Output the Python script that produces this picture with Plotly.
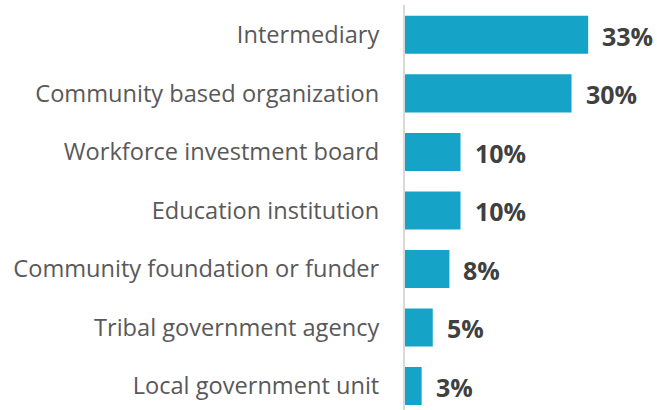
import plotly.graph_objects as go

categories = ["Intermediary", "Community based organization", "Workforce investment board",
              "Education institution", "Community foundation or funder",
              "Tribal government agency", "Local government unit"]
values = [33, 30, 10, 10, 8, 5, 3]
labels = ["33%", "30%", "10%", "10%", "8%", "5%", "3%"]

fig = go.Figure(go.Bar(
    x=values, y=categories, orientation="h",
    marker=dict(color="#15A3C7", line=dict(width=0)),
    width=0.65,
))

for c, v, t in zip(categories, values, labels):
    fig.add_annotation(x=v, y=c, text="<b>%s</b>" % t, showarrow=False,
                       xanchor="left", yanchor="middle", xshift=12, yshift=-1,
                       font=dict(family="Open Sans", size=25, color="#404040"))

fig.update_layout(
    width=657, height=410,
    margin=dict(l=405, r=0, t=5, b=0),
    paper_bgcolor="white", plot_bgcolor="white",
    showlegend=False,
    xaxis=dict(range=[0, 45.4], visible=False),
    yaxis=dict(categoryorder="array", categoryarray=categories,
               range=[6.41, -0.51], showline=True, linecolor="#D9D9D9", linewidth=2,
               showgrid=False, zeroline=False, ticks="", ticklabelstandoff=19,
               tickfont=dict(family="Open Sans", size=23.6, color="#595959")),
)

fig.write_html("out.html", config={"displayModeBar": False},
               post_script="document.body.style.margin='0';")
